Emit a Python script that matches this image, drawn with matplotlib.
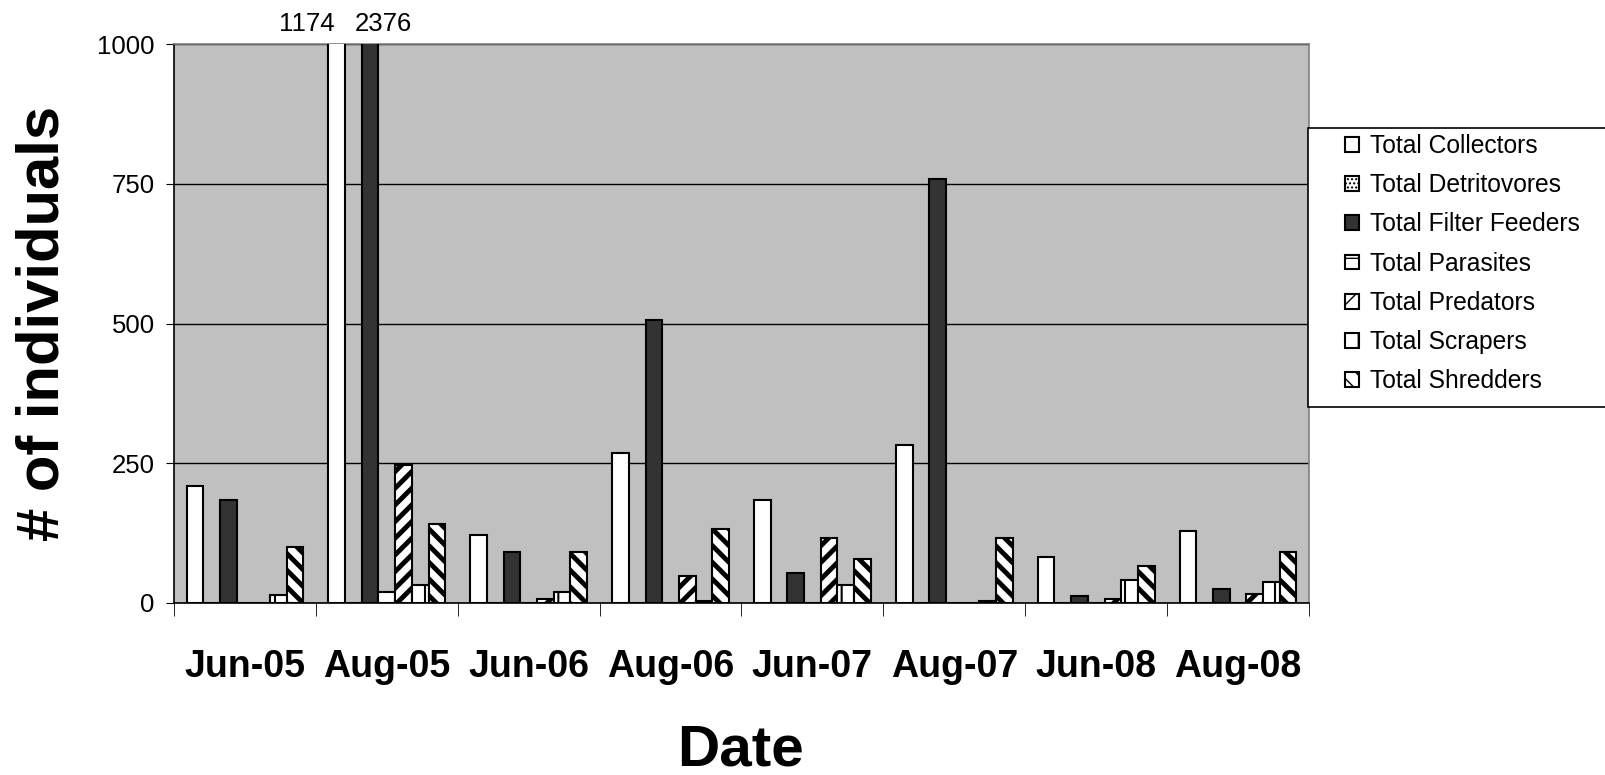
import matplotlib.pyplot as plt
import matplotlib.patches as mpatches
import numpy as np

plt.rcParams['font.family'] = ['Liberation Sans', 'DejaVu Sans']

dates = ['Jun-05', 'Aug-05', 'Jun-06', 'Aug-06', 'Jun-07', 'Aug-07', 'Jun-08', 'Aug-08']

# values (Aug-05 collectors / filter feeders go off the scale)
collectors = [210, 1174, 122, 269, 185, 282, 82, 129]
detritovores = [0, 0, 0, 0, 0, 0, 0, 0]
filter_feeders = [185, 2376, 91, 506, 54, 759, 12, 25]
parasites = [0, 20, 0, 0, 0, 0, 0, 0]
predators = [0, 247, 7, 48, 116, 0, 7, 16]
scrapers = [15, 32, 20, 4, 32, 4, 41, 37]
shredders = [100, 141, 91, 132, 78, 116, 66, 91]

series = [
    ('Total Collectors', collectors, 'white', ''),
    ('Total Detritovores', detritovores, 'white', '....'),
    ('Total Filter Feeders', filter_feeders, '#333333', ''),
    ('Total Parasites', parasites, 'white', '-'),
    ('Total Predators', predators, 'white', '//'),
    ('Total Scrapers', scrapers, 'white', '|'),
    ('Total Shredders', shredders, 'white', '\\\\'),
]
hatch_lw = {'': 1.0, '....': 1.0, '-': 1.5, '//': 3.5, '|': 1.5, '\\\\': 3.5}

fig = plt.figure(figsize=(16.06, 7.75), dpi=100)
ax = fig.add_axes([174 / 1606, 1 - 603 / 775, (1309 - 174) / 1606, (603 - 44) / 775])
ax.set_facecolor('#C0C0C0')

ymax = 1000
n = len(series)
bw = 1 / (n + 1.5)
x = np.arange(len(dates))

handles = []
for i, (name, vals, color, hatch) in enumerate(series):
    plt.rcParams['hatch.linewidth'] = hatch_lw[hatch]
    plt.rcParams['hatch.color'] = '#262626'
    pos = x + 0.75 * bw + i * bw + bw / 2
    b = ax.bar(pos, vals, width=bw, color=color, edgecolor='black',
               linewidth=1.5, hatch=hatch, zorder=3, label=name)
    handles.append(b)

ax.set_xlim(0, len(dates))
ax.set_ylim(0, ymax)
ax.set_yticks([0, 250, 500, 750, 1000])
ax.tick_params(axis='y', labelsize=18.5, length=6, direction='out', pad=8)
ax.yaxis.grid(True, color='black', linewidth=1, zorder=0)
ax.set_axisbelow(True)

ax.set_xticks(x + 0.5)
ax.set_xticklabels(dates, fontsize=27, fontweight='bold')
ax.tick_params(axis='x', which='major', length=0, pad=33)
ax.set_xticks(np.arange(len(dates) + 1), minor=True)
ax.tick_params(axis='x', which='minor', length=9, direction='out')

ax.spines['left'].set_color('black')
ax.spines['bottom'].set_color('black')
ax.spines['top'].set_color('#808080')
ax.spines['right'].set_color('#808080')
for s in ax.spines.values():
    s.set_linewidth(1.2)

# labels for bars that run off the top
for idx, ha, dx in [(0, 'right', -0.15), (2, 'left', -0.9)]:
    vals = series[idx][1]
    for j, v in enumerate(vals):
        if v > ymax:
            px = j + 0.75 * bw + idx * bw + bw / 2 + dx * bw
            ax.text(px, ymax + 14, str(v), ha=ha, va='bottom', fontsize=18.5)

fig.text(43 / 1606, 1 - 323 / 775, '# of individuals', rotation=90, ha='center',
         va='center', fontsize=43, fontweight='bold')
fig.text(741 / 1606, 1 - 750 / 775, 'Date', ha='center', va='center',
         fontsize=42, fontweight='bold')

# legend box
fig.patches.append(mpatches.Rectangle((1308 / 1606, 1 - 407 / 775), 0.3, (407 - 128) / 775,
                                      transform=fig.transFigure, facecolor='white',
                                      edgecolor='black', linewidth=1.2, zorder=1))
plt.rcParams['hatch.linewidth'] = 1.0
leg = fig.legend(handles=handles, loc='upper left', bbox_to_anchor=(1345 / 1606, 1 - 134 / 775),
                 frameon=False, fontsize=17.7, borderpad=0, borderaxespad=0,
                 handlelength=0.55, handleheight=0.55, handletextpad=0.45, labelspacing=0.62)
leg.set_zorder(5)

fig.savefig('out.png', dpi=100)
